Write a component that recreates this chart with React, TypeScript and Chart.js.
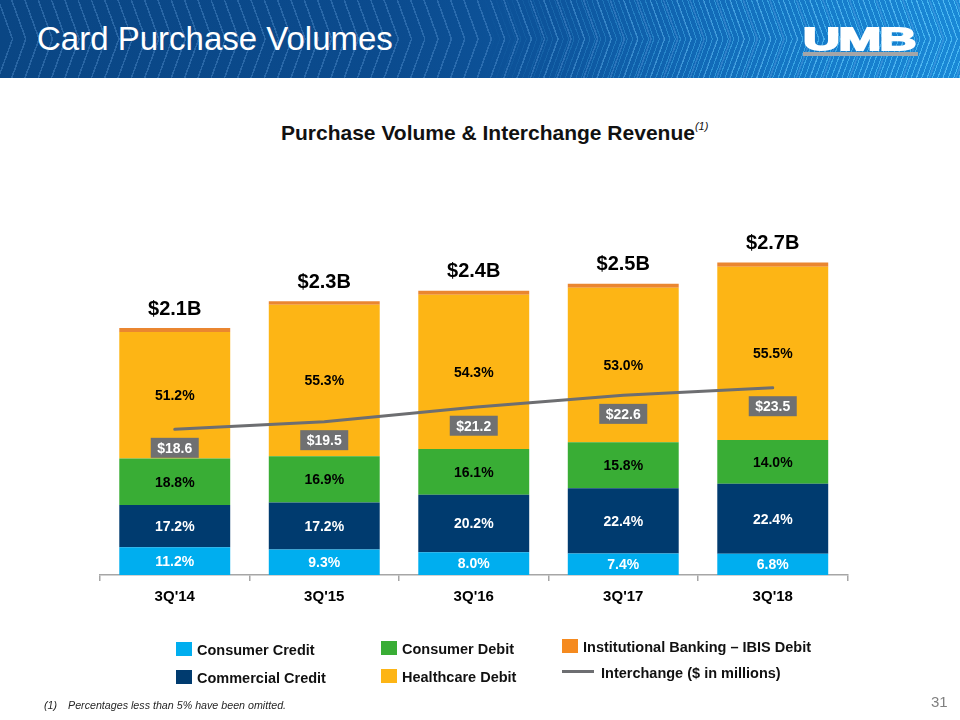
import React, { useEffect, useRef } from "react";
import { Chart, registerables } from "chart.js";

Chart.register(...registerables);

const FONT = "'Liberation Sans', Arial, Helvetica, sans-serif";

const categories = ["3Q'14", "3Q'15", "3Q'16", "3Q'17", "3Q'18"];
// total purchase volume, $ billions
const totalVolume = [2.11, 2.34, 2.43, 2.49, 2.67];
const totalLabels = ["$2.1B", "$2.3B", "$2.4B", "$2.5B", "$2.7B"];
// share of total volume, %
const consumerCreditPct = [11.2, 9.3, 8.0, 7.4, 6.8];
const commercialCreditPct = [17.2, 17.2, 20.2, 22.4, 22.4];
const consumerDebitPct = [18.8, 16.9, 16.1, 15.8, 14.0];
const healthcareDebitPct = [51.2, 55.3, 54.3, 53.0, 55.5];
const ibisDebitPct = [1.6, 1.3, 1.4, 1.4, 1.3];
// interchange revenue, $ millions
const interchange = [18.6, 19.5, 21.2, 22.6, 23.5];
const interchangeLabels = ["$18.6", "$19.5", "$21.2", "$22.6", "$23.5"];

const seriesDefs = [
  { label: "Consumer Credit", pct: consumerCreditPct, color: "#00aeef", text: "#ffffff" },
  { label: "Commercial Credit", pct: commercialCreditPct, color: "#003b6f", text: "#ffffff" },
  { label: "Consumer Debit", pct: consumerDebitPct, color: "#39ad35", text: "#000000" },
  { label: "Healthcare Debit", pct: healthcareDebitPct, color: "#fdb515", text: "#000000" },
  { label: "Institutional Banking – IBIS Debit", pct: ibisDebitPct, color: "#ea8630", text: null as string | null },
];

const LINE_COLOR = "#6d6e71";

const labelPlugin = {
  id: "customLabels",
  afterDatasetsDraw(chart: any) {
    const ctx = chart.ctx as CanvasRenderingContext2D;
    ctx.save();
    ctx.textAlign = "center";
    ctx.textBaseline = "middle";
    // percentage labels
    seriesDefs.forEach((s, di) => {
      if (!s.text) return;
      const meta = chart.getDatasetMeta(di);
      ctx.font = `bold 14px ${FONT}`;
      ctx.fillStyle = s.text;
      meta.data.forEach((bar: any, i: number) => {
        const p = bar.getProps(["x", "y", "base"], true);
        ctx.fillText(s.pct[i].toFixed(1) + "%", p.x, (p.y + p.base) / 2 + 1);
      });
    });
    // totals above bars
    const topMeta = chart.getDatasetMeta(seriesDefs.length - 1);
    ctx.font = `bold 20px ${FONT}`;
    ctx.fillStyle = "#000000";
    topMeta.data.forEach((bar: any, i: number) => {
      const p = bar.getProps(["x", "y"], true);
      ctx.fillText(totalLabels[i], p.x, p.y - 19);
    });
    // interchange boxes
    const lineMeta = chart.getDatasetMeta(seriesDefs.length);
    ctx.font = `bold 14px ${FONT}`;
    lineMeta.data.forEach((pt: any, i: number) => {
      const p = pt.getProps(["x", "y"], true);
      const cy = p.y + 18.5;
      ctx.fillStyle = "#6f7072";
      ctx.fillRect(p.x - 24, cy - 10, 48, 20);
      ctx.fillStyle = "#ffffff";
      ctx.fillText(interchangeLabels[i], p.x, cy + 1);
    });
    ctx.restore();
  },
};

function Header() {
  const maskRight = "linear-gradient(90deg, transparent 50%, rgba(0,0,0,0.6) 75%, black 100%)";
  return (
    <div
      style={{
        position: "absolute",
        left: 0,
        top: 0,
        width: 960,
        height: 78,
        overflow: "hidden",
        background:
          "linear-gradient(90deg, #0a4684 0%, #0b4b8e 40%, #0d559d 58%, #1168b5 72%, #167cca 86%, #1a88d6 100%)",
      }}
    >
      <div
        style={{
          position: "absolute",
          left: 0,
          top: 0,
          width: 960,
          height: 39,
          background:
            "repeating-linear-gradient(70deg, rgba(120,180,240,0) 0px, rgba(120,180,240,0) 11px, rgba(120,180,240,0.28) 11px, rgba(120,180,240,0.28) 12.5px)",
        }}
      />
      <div
        style={{
          position: "absolute",
          left: 0,
          top: 39,
          width: 960,
          height: 39,
          background:
            "repeating-linear-gradient(110deg, rgba(120,180,240,0) 0px, rgba(120,180,240,0) 11px, rgba(120,180,240,0.28) 11px, rgba(120,180,240,0.28) 12.5px)",
        }}
      />
      <div
        style={{
          position: "absolute",
          left: 0,
          top: 0,
          width: 960,
          height: 39,
          background:
            "repeating-linear-gradient(70deg, rgba(90,205,255,0) 0px, rgba(90,205,255,0) 4px, rgba(90,205,255,0.7) 4px, rgba(90,205,255,0.7) 5px)",
          WebkitMaskImage: maskRight,
          maskImage: maskRight,
        }}
      />
      <div
        style={{
          position: "absolute",
          left: 0,
          top: 39,
          width: 960,
          height: 39,
          background:
            "repeating-linear-gradient(110deg, rgba(90,205,255,0) 0px, rgba(90,205,255,0) 4px, rgba(90,205,255,0.7) 4px, rgba(90,205,255,0.7) 5px)",
          WebkitMaskImage: maskRight,
          maskImage: maskRight,
        }}
      />
      <div
        style={{
          position: "absolute",
          left: 37,
          top: 0,
          height: 78,
          lineHeight: "78px",
          fontSize: 33,
          color: "#ffffff",
          fontFamily: FONT,
          whiteSpace: "nowrap",
        }}
      >
        Card Purchase Volumes
      </div>
      <div
        style={{
          position: "absolute",
          left: 803,
          top: 23,
          fontSize: 32,
          lineHeight: "32px",
          fontWeight: "bold",
          color: "#ffffff",
          fontFamily: FONT,
          transform: "scaleX(1.6)",
          transformOrigin: "left center",
          letterSpacing: -1,
          WebkitTextStroke: "1.8px #ffffff",
          whiteSpace: "nowrap",
        }}
      >
        UMB
      </div>
      <div
        style={{
          position: "absolute",
          left: 803,
          top: 52,
          width: 115,
          height: 4,
          background: "#a3a5a8",
        }}
      />
    </div>
  );
}

function LegendItem(props: { x: number; y: number; color: string; label: string; line?: boolean }) {
  const { x, y, color, label, line } = props;
  return (
    <>
      {line ? (
        <div style={{ position: "absolute", left: x, top: y - 1.5, width: 32, height: 3.5, background: color }} />
      ) : (
        <div style={{ position: "absolute", left: x, top: y - 7, width: 16, height: 14, background: color }} />
      )}
      <div
        style={{
          position: "absolute",
          left: line ? x + 39 : x + 21,
          top: (line ? y + 2 : y + 1) - 10,
          height: 20,
          lineHeight: "20px",
          fontSize: 14.5,
          fontWeight: "bold",
          color: "#111111",
          fontFamily: FONT,
          whiteSpace: "nowrap",
        }}
      >
        {label}
      </div>
    </>
  );
}

export default function App() {
  const canvasRef = useRef<HTMLCanvasElement>(null);

  useEffect(() => {
    document.body.style.margin = "0";
    const canvas = canvasRef.current;
    if (!canvas) return;
    const barDatasets = seriesDefs.map((s) => ({
      type: "bar" as const,
      label: s.label,
      data: totalVolume.map((t, i) => (t * s.pct[i]) / 100),
      backgroundColor: s.color,
      borderWidth: 0,
      stack: "volume",
      yAxisID: "y",
      barPercentage: 0.742,
      categoryPercentage: 1,
    }));
    const chart = new Chart(canvas, {
      data: {
        labels: categories,
        datasets: [
          ...barDatasets,
          {
            type: "line" as const,
            label: "Interchange ($ in millions)",
            data: interchange,
            yAxisID: "y2",
            borderColor: LINE_COLOR,
            borderWidth: 3,
            pointRadius: 0,
            tension: 0,
            fill: false,
            order: -1,
            borderCapStyle: "round",
          } as any,
        ],
      },
      options: {
        responsive: false,
        animation: false,
        devicePixelRatio: 1,
        layout: { padding: { left: 100, right: 112.5, top: 200, bottom: 105 } },
        plugins: {
          legend: { display: false },
          tooltip: { enabled: false },
          title: { display: false },
        },
        scales: {
          x: {
            stacked: true,
            offset: true,
            grid: {
              display: true,
              offset: true,
              drawOnChartArea: false,
              drawTicks: true,
              tickLength: 6,
              color: "#a6a6a6",
              lineWidth: 1.5,
            },
            border: { display: true, color: "#a6a6a6", width: 1.5 },
            ticks: {
              color: "#000000",
              padding: 7,
              font: { family: FONT, size: 15, weight: "bold" },
            },
            afterFit: (scale: any) => {
              scale.height = 40;
            },
          },
          y: { display: false, stacked: true, min: 0, max: 3.205 },
          y2: { display: false, position: "right", min: 1.44, max: 45.61 },
        },
      },
      plugins: [labelPlugin],
    } as any);
    return () => chart.destroy();
  }, []);

  return (
    <div
      style={{
        position: "relative",
        width: 960,
        height: 720,
        overflow: "hidden",
        background: "#ffffff",
        fontFamily: FONT,
      }}
    >
      <Header />
      <div
        style={{
          position: "absolute",
          left: 281,
          top: 118,
          height: 30,
          lineHeight: "30px",
          fontSize: 21,
          fontWeight: "bold",
          color: "#111111",
          whiteSpace: "nowrap",
        }}
      >
        Purchase Volume &amp; Interchange Revenue
        <span style={{ fontSize: 11, fontStyle: "italic", fontWeight: "normal", position: "relative", top: -10 }}>
          (1)
        </span>
      </div>
      <canvas
        ref={canvasRef}
        width={960}
        height={720}
        style={{ position: "absolute", left: 0, top: 0, width: 960, height: 720 }}
      />
      <LegendItem x={176} y={649} color="#00aeef" label="Consumer Credit" />
      <LegendItem x={176} y={677} color="#003b6f" label="Commercial Credit" />
      <LegendItem x={381} y={647.5} color="#39ad35" label="Consumer Debit" />
      <LegendItem x={381} y={676} color="#fdb515" label="Healthcare Debit" />
      <LegendItem x={562} y={646} color="#f58a1f" label="Institutional Banking – IBIS Debit" />
      <LegendItem x={562} y={671} color={LINE_COLOR} label="Interchange ($ in millions)" line />
      <div
        style={{
          position: "absolute",
          left: 44,
          top: 697,
          height: 16,
          lineHeight: "16px",
          fontSize: 10.7,
          fontStyle: "italic",
          color: "#262626",
          whiteSpace: "nowrap",
        }}
      >
        (1)
      </div>
      <div
        style={{
          position: "absolute",
          left: 68,
          top: 697,
          height: 16,
          lineHeight: "16px",
          fontSize: 10.7,
          fontStyle: "italic",
          color: "#262626",
          whiteSpace: "nowrap",
        }}
      >
        Percentages less than 5% have been omitted.
      </div>
      <div
        style={{
          position: "absolute",
          left: 931,
          top: 692,
          height: 20,
          lineHeight: "20px",
          fontSize: 15,
          color: "#808080",
          whiteSpace: "nowrap",
        }}
      >
        31
      </div>
    </div>
  );
}
